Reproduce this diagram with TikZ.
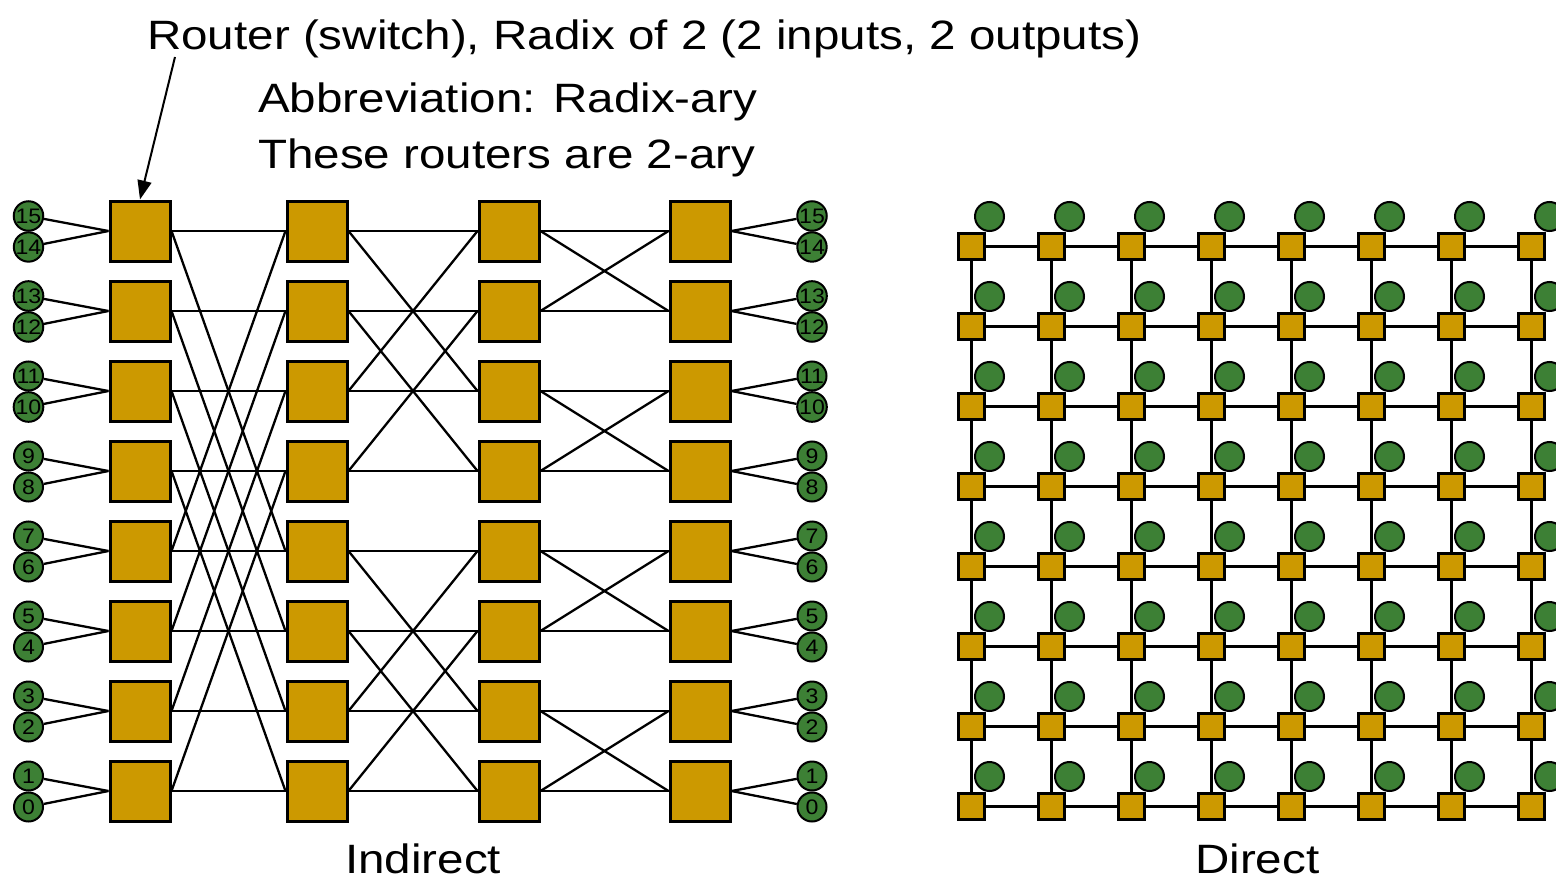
\documentclass[tikz,border=0pt]{standalone}
\usepackage{fontspec}
\setmainfont{Liberation Sans}[FakeStretch=1.16]
\newfontfamily\digfont{Liberation Sans}[FakeStretch=1.1]
\usetikzlibrary{arrows.meta,backgrounds}
\definecolor{gold}{RGB}{204,153,0}
\definecolor{grn}{RGB}{61,128,53}
\begin{document}
\begin{tikzpicture}[x=1pt,y=-1pt,
  bigrouter/.style={rectangle,draw=black,fill=gold,line width=3pt,minimum size=60pt,inner sep=0pt},
  smallrouter/.style={rectangle,draw=black,fill=gold,line width=2.6pt,minimum size=26.5pt,inner sep=0pt},
  term/.style={circle,draw=black,fill=grn,line width=2pt,minimum size=29pt,inner sep=0pt,font=\digfont\fontsize{21}{21}\selectfont},
  dotnode/.style={circle,draw=black,fill=grn,line width=2pt,minimum size=29pt,inner sep=0pt},
  wire/.style={draw=black,line width=2.3pt},
  lbl/.style={anchor=base west,inner sep=0pt,font=\fontsize{41}{43}\selectfont}
]
\useasboundingbox (0,0) rectangle (1556,883);
\clip (0,0) rectangle (1556,883);

% labels
\node[lbl] (title) at (147,50) {Router (switch), Radix of 2 (2 inputs, 2 outputs)};
\node[lbl] (abbr) at (258,112) {Abbreviation: Radix-ary};
\node[lbl] (these) at (258,168) {These routers are 2-ary};
\node[lbl] (ind) at (345,873) {Indirect};
\node[lbl] (dir) at (1195,873) {Direct};

% indirect network
\foreach \r in {0,...,7}{
  \pgfmathsetmacro\yy{231+80*(7-\r)}
  \pgfmathtruncatemacro\hi{2*\r+1}
  \pgfmathtruncatemacro\lo{2*\r}
  \node[bigrouter] (a\r) at (140,\yy) {};
  \node[bigrouter] (b\r) at (317,\yy) {};
  \node[bigrouter] (c\r) at (509,\yy) {};
  \node[bigrouter] (d\r) at (700,\yy) {};
  \node[term] (l\hi) at (28.5,\yy-15) {\hi};
  \node[term] (l\lo) at (28.5,\yy+16) {\lo};
  \node[term] (q\hi) at (812,\yy-15) {\hi};
  \node[term] (q\lo) at (812,\yy+16) {\lo};
}
\begin{scope}[on background layer]
\foreach \r in {0,...,7}{
  \pgfmathtruncatemacro\hi{2*\r+1}
  \pgfmathtruncatemacro\lo{2*\r}
  \pgfmathtruncatemacro\xa{mod(\r+4,8)}
  \pgfmathtruncatemacro\xb{\r-mod(\r,4)+mod(\r+2,4)}
  \pgfmathtruncatemacro\xc{\r-mod(\r,2)+mod(\r+1,2)}
  \draw[wire] (l\hi) -- (a\r.west);
  \draw[wire] (l\lo) -- (a\r.west);
  \draw[wire] (q\hi) -- (d\r.east);
  \draw[wire] (q\lo) -- (d\r.east);
  \draw[wire] (a\r.east) -- (b\r.west);
  \draw[wire] (a\r.east) -- (b\xa.west);
  \draw[wire] (b\r.east) -- (c\r.west);
  \draw[wire] (b\r.east) -- (c\xb.west);
  \draw[wire] (c\r.east) -- (d\r.west);
  \draw[wire] (c\r.east) -- (d\xc.west);
}
\end{scope}

% arrow
\coordinate (arrtail) at (175,57);
\draw[line width=2pt,-{Triangle[length=19pt,width=14pt]}] (arrtail) -- (a7.north);

% direct network
\foreach \i in {0,...,7}{
  \foreach \j in {0,...,7}{
    \node[smallrouter] (s\i\j) at (971.5+80*\i,246.5+80*\j) {};
    \node[dotnode] (p\i\j) at (989.5+80*\i,216.5+80*\j) {};
  }
}
\begin{scope}[on background layer]
\foreach \i in {0,...,6}{
  \pgfmathtruncatemacro\ni{\i+1}
  \foreach \j in {0,...,7}{
    \draw[wire] (s\i\j) -- (s\ni\j);
    \draw[wire] (s\j\i) -- (s\j\ni);
  }
}
\end{scope}
\end{tikzpicture}
\end{document}
